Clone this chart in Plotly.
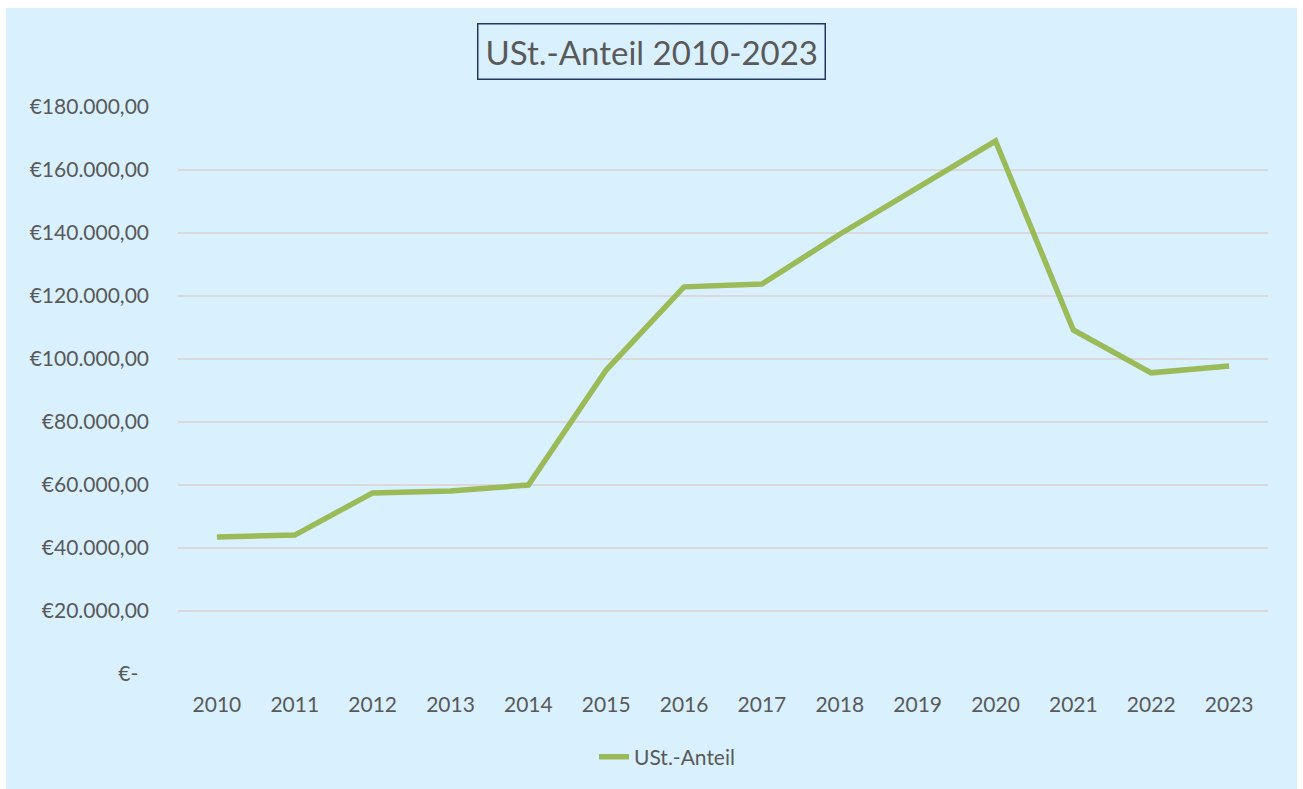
import plotly.graph_objects as go

years = ["2010", "2011", "2012", "2013", "2014", "2015", "2016",
         "2017", "2018", "2019", "2020", "2021", "2022", "2023"]
ust_anteil = [43500, 44100, 57500, 58100, 60000, 96500, 122900,
              123800, 139600, 154400, 169200, 109200, 95600, 97800]
y_tickvals = [0, 20000, 40000, 60000, 80000, 100000, 120000, 140000, 160000, 180000]
y_ticktext = ["€-\u00a0\u00a0", "€20.000,00", "€40.000,00", "€60.000,00", "€80.000,00",
              "€100.000,00", "€120.000,00", "€140.000,00", "€160.000,00", "€180.000,00"]

BG = "#D9F1FE"
TXT = "#595959"
FONT = "Lato"

fig = go.Figure()
fig.add_trace(go.Scatter(
    x=years, y=ust_anteil, mode="lines", name="USt.-Anteil",
    line=dict(color="#9BBB59", width=5.5),
))

L, R, T, B = 178, 1268, 107, 674
W, H = 1303, 789
pw, ph = R - L, B - T

def px_x(p):
    return (p - L) / pw

def px_y(p):
    return (B - p) / ph

fig.update_layout(
    width=W, height=H,
    margin=dict(l=L, r=W - R, t=T, b=H - B, pad=0),
    paper_bgcolor=BG, plot_bgcolor=BG,
    font=dict(family=FONT, color=TXT, size=21),
    showlegend=True,
    legend=dict(x=px_x(667), y=px_y(757), xanchor="center", yanchor="middle",
                orientation="h", font=dict(size=21, color=TXT, family=FONT),
                bgcolor="rgba(0,0,0,0)"),
    xaxis=dict(type="category", range=[-0.5, 13.5], showgrid=False, showline=False,
               ticks="", zeroline=False, tickfont=dict(size=21, color=TXT, family=FONT),
               ticklabelstandoff=16),
    yaxis=dict(range=[0, 180000], tickvals=y_tickvals, ticktext=y_ticktext,
               showgrid=True, gridcolor="#D9D9D9", gridwidth=1.5, zeroline=False,
               showline=False, ticks="", tickfont=dict(size=21, color=TXT, family=FONT),
               ticklabelstandoff=28),
    annotations=[dict(
        text="USt.-Anteil 2010-2023", xref="paper", yref="paper",
        x=px_x(651), y=px_y(51), xanchor="center", yanchor="middle",
        showarrow=False, font=dict(size=33, color=TXT, family=FONT),
        bordercolor="#203864", borderwidth=1.5, borderpad=7, bgcolor=BG,
    )],
    shapes=[
        dict(type="rect", xref="paper", yref="paper", x0=px_x(-5), x1=px_x(6),
             y0=px_y(H + 5), y1=px_y(-5), fillcolor="white", line=dict(width=0), layer="above"),
        dict(type="rect", xref="paper", yref="paper", x0=px_x(1297), x1=px_x(W + 5),
             y0=px_y(H + 5), y1=px_y(-5), fillcolor="white", line=dict(width=0), layer="above"),
        dict(type="rect", xref="paper", yref="paper", x0=px_x(-5), x1=px_x(W + 5),
             y0=px_y(8), y1=px_y(-5), fillcolor="white", line=dict(width=0), layer="above"),
    ],
)

fig.write_html("out.html", config={"displayModeBar": False},
               post_script="document.body.style.margin='0';document.body.style.overflow='hidden';")
